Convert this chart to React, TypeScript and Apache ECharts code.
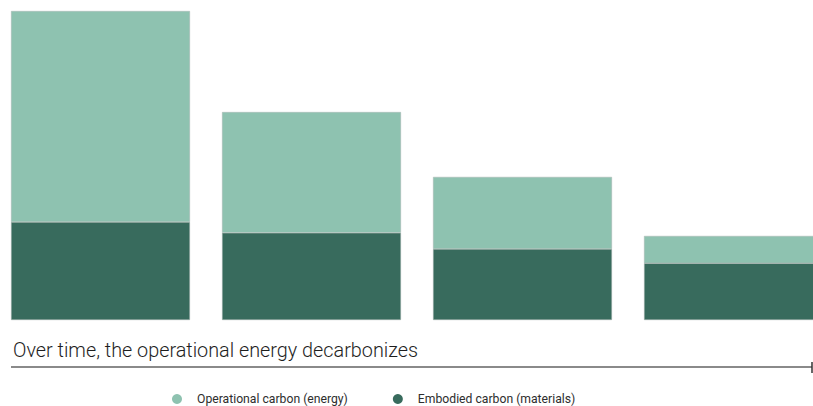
import React, { useEffect, useRef } from "react";
import * as echarts from "echarts";

const categories = ["Stage 1", "Stage 2", "Stage 3", "Stage 4"];
const embodied = [31.7, 28.2, 23.0, 18.4];
const operational = [68.3, 39.1, 23.3, 8.8];
const seriesNames = ["Operational carbon (energy)", "Embodied carbon (materials)"];
const axisCaption = "Over time, the operational energy decarbonizes";

const FONT = "Roboto, 'Noto Sans', sans-serif";
const LIGHT = "#8ec2b0";
const DARK = "#386b5d";
// the chart canvas is shifted left by OFF px inside a clipping frame
const OFF = 5;

function measure(text: string, font: string): number {
  const c = document.createElement("canvas").getContext("2d");
  if (!c) return 0;
  c.font = font;
  return c.measureText(text).width;
}

export default function App() {
  const ref = useRef<HTMLDivElement>(null);
  useEffect(() => {
    if (!ref.current) return;
    const chart = echarts.init(ref.current, null, { renderer: "svg" });
    const capW = measure(axisCaption, "300 21px Roboto") || 405;
    const capScale = 405 / capW;
    const legendFont = 12.2;
    chart.setOption({
      animation: false,
      grid: { left: 0, right: 0, top: 11, bottom: 86, containLabel: false },
      xAxis: {
        type: "category",
        data: categories,
        axisLine: { show: false },
        axisTick: { show: false },
        axisLabel: { show: false },
      },
      yAxis: {
        type: "value",
        min: 0,
        max: 100,
        show: false,
        splitLine: { show: false },
      },
      legend: {
        data: seriesNames,
        left: 172 + OFF - 5,
        top: 388,
        icon: "circle",
        itemWidth: 10,
        itemHeight: 10,
        itemGap: 45,
        itemStyle: { borderWidth: 0 },
        textStyle: {
          fontFamily: FONT,
          fontWeight: 400,
          fontSize: legendFont,
          color: "#2e2e2e",
          padding: [0, 0, 0, 10],
        },
      },
      series: [
        {
          name: seriesNames[1],
          type: "bar",
          stack: "total",
          data: embodied,
          barCategoryGap: "15.2%",
          itemStyle: { color: DARK, borderColor: "#a9b5b1", borderWidth: 0.5 },
        },
        {
          name: seriesNames[0],
          type: "bar",
          stack: "total",
          data: operational,
          barCategoryGap: "15.2%",
          itemStyle: { color: LIGHT, borderColor: "#a9b5b1", borderWidth: 0.5 },
        },
      ],
      graphic: [
        {
          type: "text",
          x: 13 + OFF,
          y: 350,
          scaleX: capScale,
          style: {
            text: axisCaption,
            fontFamily: FONT,
            fontWeight: 300,
            fontSize: 21,
            fill: "#1e1e1e",
            verticalAlign: "middle",
          },
        },
        {
          type: "line",
          shape: { x1: 11 + OFF, y1: 367, x2: 812 + OFF, y2: 367 },
          style: { stroke: "#8a8a8a", lineWidth: 2 },
        },
        {
          type: "line",
          shape: { x1: 812 + OFF, y1: 362, x2: 812 + OFF, y2: 373 },
          style: { stroke: "#333", lineWidth: 1.5 },
        },
      ],
    });
    return () => chart.dispose();
  }, []);
  return (
    <div
      style={{
        position: "absolute",
        left: 0,
        top: 0,
        width: 813,
        height: 406,
        overflow: "hidden",
      }}
    >
      <div
        ref={ref}
        style={{ position: "absolute", left: -OFF, top: 0, width: 844, height: 406 }}
      />
    </div>
  );
}
